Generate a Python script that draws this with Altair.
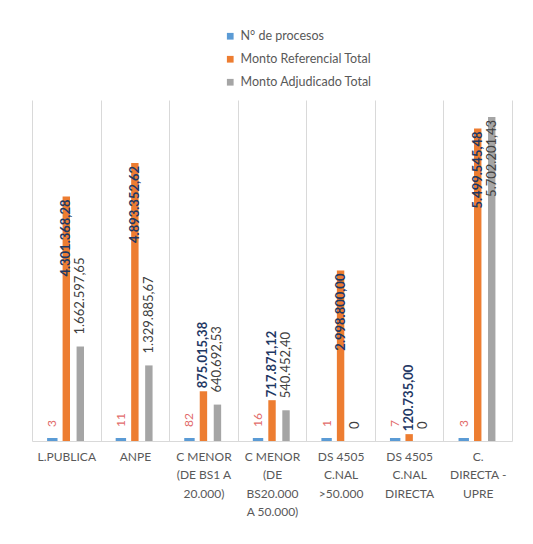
import json
import altair as alt
import pandas as pd

categories = ["L.PUBLICA", "ANPE", "C MENOR (DE BS1 A 20.000)",
              "C MENOR (DE BS20.000 A 50.000)", "DS 4505 C.NAL >50.000",
              "DS 4505 C.NAL DIRECTA", "C. DIRECTA - UPRE"]
label_lines = [["L.PUBLICA"], ["ANPE"], ["C MENOR", "(DE BS1 A", "20.000)"],
               ["C MENOR", "(DE", "BS20.000", "A 50.000)"],
               ["DS 4505", "C.NAL", ">50.000"], ["DS 4505", "C.NAL", "DIRECTA"],
               ["C.", "DIRECTA -", "UPRE"]]
series = ["N° de procesos", "Monto Referencial Total", "Monto Adjudicado Total"]
procesos = [3, 11, 82, 16, 1, 7, 3]
referencial = [4301368.28, 4893352.62, 875015.38, 717871.12, 2998800.00, 120735.00, 5499545.48]
adjudicado = [1662597.65, 1329885.67, 640692.53, 540452.40, 0, 0, 5702201.43]
colors = ["#5b9bd5", "#ed7d31", "#a5a5a5"]


def fmt(v):
    if v == 0:
        return "0"
    s = f"{v:,.2f}"
    return s.replace(",", "#").replace(".", ",").replace("#", ".")


rows = []
for i, c in enumerate(categories):
    rows.append({"cat": c, "series": series[0], "value": procesos[i], "label": str(procesos[i])})
    rows.append({"cat": c, "series": series[1], "value": referencial[i], "label": fmt(referencial[i])})
    rows.append({"cat": c, "series": series[2], "value": adjudicado[i], "label": fmt(adjudicado[i])})
df = pd.DataFrame(rows)

FONT = "Lato"
label_map = json.dumps(dict(zip(categories, label_lines)), ensure_ascii=False)

x = alt.X("cat:N", sort=categories, title=None,
          scale=alt.Scale(paddingInner=0, paddingOuter=0),
          axis=alt.Axis(labelAngle=0, labelExpr=f"{label_map}[datum.label]",
                        labelFont=FONT, labelFontSize=12, labelColor="#595959",
                        labelLineHeight=18.5, labelPadding=10, ticks=False,
                        grid=True, gridColor="#d9d9d9", tickBand="extent",
                        domainColor="#d9d9d9", labelBaseline="top"))
xo = alt.XOffset("series:N", sort=series,
                 scale=alt.Scale(domain=series, paddingInner=0.47, paddingOuter=0,
                                 range=[16.6, 52.0]))
y = alt.Y("value:Q", scale=alt.Scale(domain=[0, 6000000], nice=False, zero=True),
          axis=None, title=None)

base = alt.Chart(df)

bars = base.mark_bar().encode(
    x=x, xOffset=xo, y=y,
    color=alt.Color("series:N", sort=series,
                    scale=alt.Scale(domain=series, range=colors),
                    legend=alt.Legend(title=None, orient="none", legendX=192, legendY=-70,
                                      direction="vertical", symbolType="square",
                                      symbolSize=45, labelFont=FONT, labelFontSize=12.5,
                                      labelColor="#595959", rowPadding=10, padding=0,
                                      symbolStrokeWidth=0)),
)

blue = base.transform_filter(alt.datum.series == series[0]).mark_bar(
    stroke=colors[0], strokeWidth=3, yOffset=-1.5, color=colors[0]
).encode(x=x, xOffset=xo, y=y)

proc_lbl = base.transform_filter(alt.datum.series == series[0]).mark_text(
    angle=270, align="left", baseline="middle", dx=14, font=FONT, fontSize=12,
    color="#e26b6b"
).encode(x=x, xOffset=xo, y=y, text="label:N")

ref_out = base.transform_filter(
    (alt.datum.series == series[1]) & (alt.datum.value <= 2500000)
).mark_text(angle=270, align="left", baseline="middle", dx=3, font=FONT, fontSize=13,
            fontWeight="bold", color="#1f3864"
).encode(x=x, xOffset=xo, y=y, text="label:N")

ref_in = base.transform_filter(
    (alt.datum.series == series[1]) & (alt.datum.value > 2500000)
).mark_text(angle=270, align="right", baseline="middle", dx=-3, font=FONT, fontSize=13,
            fontWeight="bold", color="#1f3864"
).encode(x=x, xOffset=xo, y=y, text="label:N")

adj_out = base.transform_filter(
    (alt.datum.series == series[2]) & (alt.datum.value <= 2500000)
).mark_text(angle=270, align="left", baseline="middle", dx=12, font=FONT, fontSize=13,
            color="#404040"
).encode(x=x, xOffset=xo, y=y, text="label:N")

adj_in = base.transform_filter(
    (alt.datum.series == series[2]) & (alt.datum.value > 2500000)
).mark_text(angle=270, align="right", baseline="middle", dx=-3, font=FONT, fontSize=13,
            color="#404040"
).encode(x=x, xOffset=xo, y=y, text="label:N")

chart = alt.layer(bars, blue, proc_lbl, ref_out, ref_in, adj_out, adj_in).properties(
    width=480, height=341,
    autosize=alt.AutoSizeParams(type="none"),
    padding={"left": 24, "top": 92, "right": 13, "bottom": 95},
    background="white",
).configure_view(stroke=None)

chart.save("out.html", embed_options={"renderer": "svg", "actions": False})
